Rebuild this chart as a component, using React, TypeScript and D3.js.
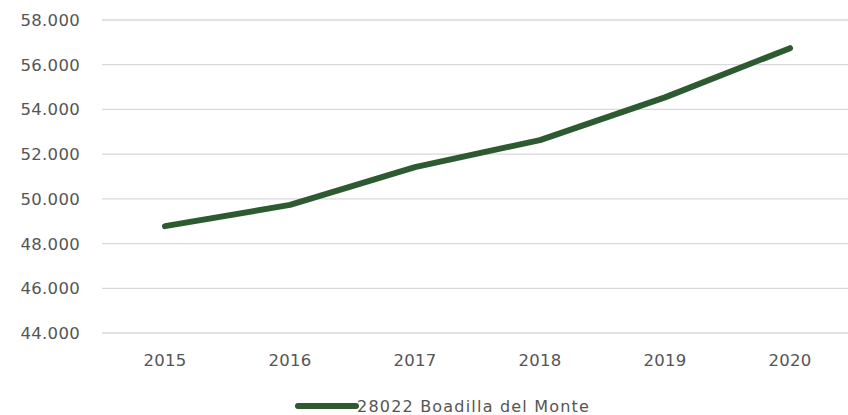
import React, { useEffect, useRef } from "react";
import * as d3 from "d3";

const years = ["2015", "2016", "2017", "2018", "2019", "2020"];
const population = [48780, 49730, 51420, 52630, 54540, 56740];
const yTicks = [44000, 46000, 48000, 50000, 52000, 54000, 56000, 58000];
const seriesName = "28022 Boadilla del Monte";

const W = 848;
const H = 415;
const LINE_COLOR = "#2D5A30";
const TEXT_COLOR = "#555555";

const fmt = (v: number) => d3.format(",")(v).replace(/,/g, ".");

const App: React.FC = () => {
  const svgRef = useRef<SVGSVGElement | null>(null);

  useEffect(() => {
    if (!svgRef.current) return;
    const svg = d3.select(svgRef.current);
    svg.selectAll("*").remove();

    const x = d3.scaleBand<string>().domain(years).range([102.5, 852.5]);
    const y = d3.scaleLinear().domain([44000, 58000]).range([333, 20]);

    // grid
    svg
      .append("g")
      .selectAll("line")
      .data(yTicks)
      .join("line")
      .attr("x1", 102)
      .attr("x2", W)
      .attr("y1", (d) => y(d))
      .attr("y2", (d) => y(d))
      .attr("stroke", "#d9d9d9")
      .attr("stroke-width", 1.3);

    // y labels
    svg
      .append("g")
      .selectAll("text")
      .data(yTicks)
      .join("text")
      .attr("x", 80)
      .attr("y", (d) => y(d))
      .attr("dy", "0.36em")
      .attr("text-anchor", "end")
      .attr("fill", TEXT_COLOR)
      .style("font-family", "DejaVu Sans, Verdana, sans-serif")
      .style("font-size", "16.5px")
      .style("letter-spacing", "0.3px")
      .text((d) => fmt(d));

    // x labels
    svg
      .append("g")
      .selectAll("text")
      .data(years)
      .join("text")
      .attr("x", (d) => x(d)! + x.bandwidth() / 2)
      .attr("y", 366)
      .attr("text-anchor", "middle")
      .attr("fill", TEXT_COLOR)
      .style("font-family", "DejaVu Sans, Verdana, sans-serif")
      .style("font-size", "16.5px")
      .style("letter-spacing", "0.3px")
      .text((d) => d);

    const line = d3
      .line<number>()
      .x((_, i) => x(years[i])! + x.bandwidth() / 2)
      .y((d) => y(d));

    svg
      .append("path")
      .datum(population)
      .attr("fill", "none")
      .attr("stroke", LINE_COLOR)
      .attr("stroke-width", 6)
      .attr("stroke-linecap", "round")
      .attr("stroke-linejoin", "round")
      .attr("d", line);

    // legend
    const lg = svg.append("g").attr("transform", "translate(298,406)");
    lg.append("line")
      .attr("x1", 0)
      .attr("x2", 58)
      .attr("stroke", LINE_COLOR)
      .attr("stroke-width", 6)
      .attr("stroke-linecap", "round");
    lg.append("text")
      .attr("x", 59)
      .attr("dy", "0.36em")
      .attr("fill", TEXT_COLOR)
      .style("font-family", "DejaVu Sans, Verdana, sans-serif")
      .style("font-size", "16px")
      .style("letter-spacing", "1.2px")
      .text(seriesName);
  }, []);

  return (
    <svg
      ref={svgRef}
      width={W}
      height={H}
      style={{ position: "absolute", left: 0, top: 0, background: "#fff" }}
    />
  );
};

export default App;
